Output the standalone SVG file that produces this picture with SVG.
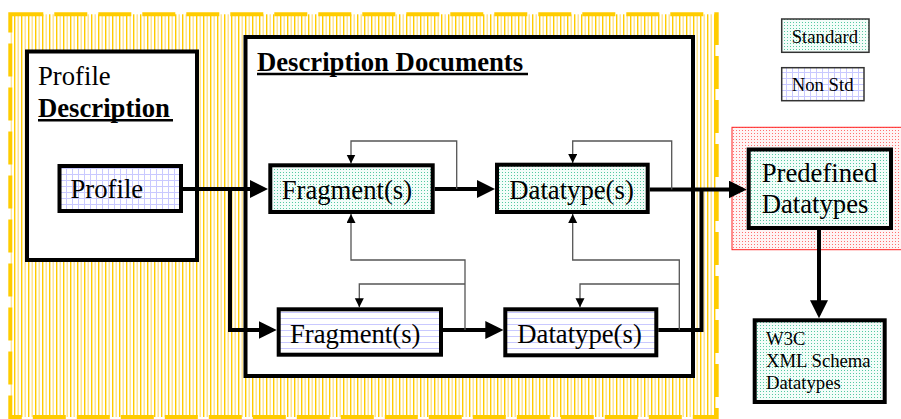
<svg xmlns="http://www.w3.org/2000/svg" width="901" height="419" viewBox="0 0 901 419">
<defs>
<style>
text{font-family:"Liberation Serif","Times New Roman",serif;fill:#000}
.big{font-size:26.7px}
.bold{font-weight:bold}
.sm{font-size:18.7px}
.cont{fill:#fff;stroke:#000;stroke-width:4}
.node{stroke:#000;stroke-width:4}
.leg{stroke:#333;stroke-width:1.5}
.thick{fill:none;stroke:#000;stroke-width:4;marker-end:url(#bigArrow)}
.thickn{fill:none;stroke:#000;stroke-width:4}
.thin{fill:none;stroke:#555;stroke-width:1.3;marker-end:url(#smallArrow)}
.ul{stroke:#000;stroke-width:2.5}
</style>
<pattern id="yel" width="7" height="7" patternUnits="userSpaceOnUse">
<rect width="7" height="7" fill="#fff"/>
<rect width="1.4" height="7" fill="#ffcc00"/>
<rect x="3.5" width="1.4" height="7" fill="#ffe38a"/>
</pattern>
<pattern id="grn" width="3" height="3" patternUnits="userSpaceOnUse">
<rect width="3" height="3" fill="#f3fdf9"/>
<rect x="1" y="1" width="1" height="1" fill="#55c9a2"/>
</pattern>
<pattern id="grid" width="6" height="6" patternUnits="userSpaceOnUse">
<rect width="6" height="6" fill="#fff"/>
<rect width="1" height="6" fill="#c9c9ff"/>
<rect width="6" height="1" fill="#c9c9ff"/>
</pattern>
<pattern id="hl" width="6" height="6" patternUnits="userSpaceOnUse">
<rect width="6" height="6" fill="#fff"/>
<rect width="6" height="1" fill="#c9c9ff"/>
</pattern>
<pattern id="red" width="3" height="3" patternUnits="userSpaceOnUse">
<rect width="3" height="3" fill="#fff4f4"/>
<rect x="1" y="1" width="1" height="1" fill="#ff7070"/>
</pattern>
<marker id="bigArrow" markerUnits="userSpaceOnUse" markerWidth="18" markerHeight="18" refX="14" refY="9" orient="auto">
<path d="M0,0 L18,9 L0,18 z" fill="#000"/>
</marker>
<marker id="smallArrow" markerUnits="userSpaceOnUse" markerWidth="10" markerHeight="10" refX="9" refY="4.5" orient="auto">
<path d="M0,0 L9,4.5 L0,9 z" fill="#000"/>
</marker>
</defs>

<g id="region-outer">
<rect x="10.3" y="14.3" width="706.4" height="402.7" fill="url(#yel)" stroke="#ffcc00" stroke-width="4" stroke-dasharray="33 11"/>
</g>
<g id="region-predefined">
<rect x="732" y="127.3" width="175" height="122.4" fill="url(#red)" stroke="#ff2020" stroke-width="1"/>
</g>

<g id="profile-description">
<rect class="cont" x="27" y="51.5" width="170" height="208.5"/>
<text class="big" x="38" y="85">Profile</text>
<text class="big bold" x="38" y="116.7">Description</text>
<line class="ul" x1="38" y1="120.3" x2="173" y2="120.3"/>
</g>

<g id="description-documents">
<rect class="cont" x="245.5" y="37" width="447.5" height="339"/>
<text class="big bold" x="257" y="70.7">Description Documents</text>
<line class="ul" x1="257" y1="74" x2="528" y2="74"/>
</g>

<g id="connectors">
<path class="thick" d="M183,189 H264"/>
<path class="thick" d="M230,189 V330 H272.7"/>
<path class="thick" d="M434.7,189 H491"/>
<path class="thick" d="M443,330 H499.3"/>
<path class="thick" d="M649.7,189.5 H742.7"/>
<path class="thickn" d="M658.3,330 H701.5 V189.5"/>
<path class="thick" d="M819,230 V314.3"/>
<path class="thin" d="M456.7,189 V141 H351 V163.5"/>
<path class="thin" d="M465,330 V260 H351 V214"/>
<path class="thin" d="M465,284 H359.3 V307.3"/>
<path class="thin" d="M671.7,189.5 V141 H572.7 V163"/>
<path class="thin" d="M679.3,330 V260 H572.7 V214"/>
<path class="thin" d="M679.3,284 H580 V307.3"/>
</g>

<g id="profile">
<rect class="node" x="59.5" y="166" width="121.5" height="45" fill="url(#grid)"/>
<text class="big" x="70.5" y="198.3">Profile</text>
</g>
<g id="fragment-upper">
<rect class="node" x="270.3" y="165.3" width="162.4" height="46.7" fill="url(#grn)"/>
<text class="big" x="281.7" y="199.3">Fragment(s)</text>
</g>
<g id="datatype-upper">
<rect class="node" x="497" y="164.7" width="150.7" height="47.3" fill="url(#grn)"/>
<text class="big" x="509.3" y="199">Datatype(s)</text>
</g>
<g id="fragment-lower">
<rect class="node" x="278.7" y="309.3" width="162.3" height="45.4" fill="url(#hl)"/>
<text class="big" x="290" y="343">Fragment(s)</text>
</g>
<g id="datatype-lower">
<rect class="node" x="505.3" y="309.3" width="151" height="46" fill="url(#hl)"/>
<text class="big" x="517.3" y="343">Datatype(s)</text>
</g>
<g id="predefined-datatypes">
<rect class="node" x="748.7" y="149.5" width="142.3" height="78.5" fill="url(#grn)"/>
<text class="big" x="761.7" y="181.7">Predefined</text>
<text class="big" x="761.7" y="213.3">Datatypes</text>
</g>
<g id="w3c-datatypes">
<rect class="node" x="754.7" y="320.3" width="130" height="81.7" fill="url(#grn)"/>
<text class="sm" x="766" y="345">W3C</text>
<text class="sm" x="766" y="367.3">XML Schema</text>
<text class="sm" x="766" y="389.3">Datatypes</text>
</g>
<g id="legend-standard">
<rect class="leg" x="781.7" y="19" width="87.3" height="33.3" fill="url(#grn)"/>
<text class="sm" x="791.7" y="42.7">Standard</text>
</g>
<g id="legend-nonstd">
<rect class="leg" x="781.7" y="67.7" width="82.3" height="33" fill="url(#grid)"/>
<text class="sm" x="791.7" y="90.7">Non Std</text>
</g>
</svg>
